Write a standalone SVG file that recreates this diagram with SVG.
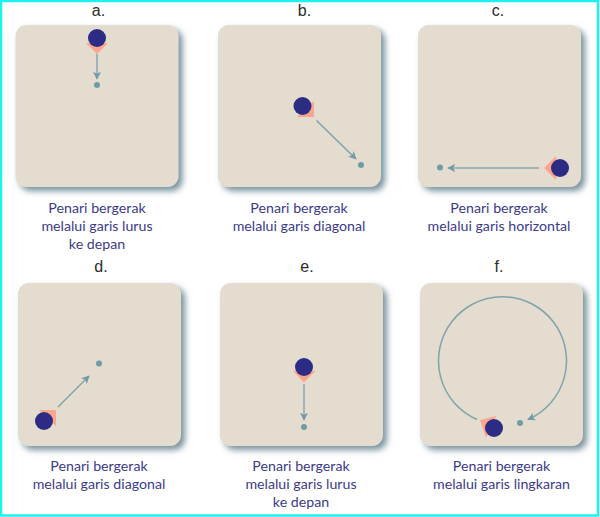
<svg xmlns="http://www.w3.org/2000/svg" width="600" height="517" viewBox="0 0 600 517">
<style>
.p{fill:#e3dccf;filter:url(#s)}
.l{font:16px "Liberation Sans",sans-serif;fill:#2b2b2b;text-anchor:middle}
.t{font:14.2px "Lato",sans-serif;fill:#3b3b8a;text-anchor:middle}
.c{fill:#2c2c85}
.v{fill:#fba58e}
.d{fill:#6f9ca6}
.a{fill:none;stroke:#7fa3ab;stroke-width:1.5;marker-end:url(#m)}
.b{stroke:#9db5b8;stroke-width:2}
</style>
<defs>
<filter id="s" x="-10%" y="-10%" width="125%" height="125%"><feDropShadow dx="4" dy="4" stdDeviation="3" flood-color="#5f7f8c" flood-opacity="0.85"/></filter>
<marker id="m" viewBox="0 0 10 10" refX="9" refY="5" markerWidth="8" markerHeight="8" orient="auto" markerUnits="userSpaceOnUse"><path d="M0 0L10 5L0 10L2.5 5Z" fill="#6f9ca6"/></marker>
</defs>
<rect width="600" height="517" fill="#fff"/>
<rect x="1" y="1" width="597" height="514.500" fill="none" stroke="#1ff0f0" stroke-width="2.500"/>
<g id="panel-a"><rect class="p" x="15.500" y="25" width="163" height="162" rx="11"/><text class="l" x="98.500" y="15.500">a.</text>
<path class="v" d="M86 43H108L97 54Z"/><circle class="c" cx="97" cy="38" r="9"/><circle class="d" cx="97" cy="85" r="3"/>
<text class="t"><tspan x="97" y="213">Penari bergerak</tspan><tspan x="97" y="231">melalui garis lurus</tspan><tspan x="97" y="249">ke depan</tspan></text></g>
<g id="panel-b"><rect class="p" x="218" y="25" width="163" height="162" rx="11"/><text class="l" x="304.500" y="15.500">b.</text>
<path class="v" d="M314 101V117H297Z"/><circle class="c" cx="302.500" cy="106" r="9"/><circle class="d" cx="361" cy="165" r="3"/>
<text class="t"><tspan x="299" y="213">Penari bergerak</tspan><tspan x="299" y="231">melalui garis diagonal</tspan></text></g>
<g id="panel-c"><rect class="p" x="418" y="25" width="163" height="162" rx="11"/><text class="l" x="498" y="15.500">c.</text>
<path class="v" d="M544 168L556 156V180Z"/><circle class="c" cx="560" cy="168" r="9"/><circle class="d" cx="440" cy="167.500" r="3"/>
<text class="t"><tspan x="499" y="213">Penari bergerak</tspan><tspan x="499" y="231">melalui garis horizontal</tspan></text></g>
<g id="panel-d"><rect class="p" x="18" y="283" width="163" height="163" rx="11"/><text class="l" x="101" y="272">d.</text>
<path class="v" d="M39 410H56V426Z"/><circle class="c" cx="44" cy="421" r="9"/><circle class="d" cx="99" cy="363.500" r="3"/>
<text class="t"><tspan x="99" y="471">Penari bergerak</tspan><tspan x="99" y="489">melalui garis diagonal</tspan></text></g>
<g id="panel-e"><rect class="p" x="220" y="283" width="163" height="163" rx="11"/><text class="l" x="307" y="272">e.</text>
<path class="v" d="M293 371H315.500L304 382.500Z"/><circle class="c" cx="304" cy="367" r="9"/><circle class="d" cx="304" cy="427" r="3"/>
<text class="t"><tspan x="301" y="471">Penari bergerak</tspan><tspan x="301" y="489">melalui garis lurus</tspan><tspan x="301" y="507">ke depan</tspan></text></g>
<g id="panel-f"><rect class="p" x="420" y="283" width="163" height="163" rx="11"/><text class="l" x="499" y="272">f.</text>
<path class="v" d="M480 420L496 416L486 438Z"/><circle class="c" cx="494" cy="428" r="9"/><circle class="d" cx="520" cy="423" r="3"/>
<text class="t"><tspan x="501.500" y="471">Penari bergerak</tspan><tspan x="501.500" y="489">melalui garis lingkaran</tspan></text></g>
<g id="connectors">
<path class="a b" d="M97 54V79"/>
<path class="a" d="M316.500 120.500L356 159"/>
<path class="a b" d="M539 168H448"/>
<path class="a" d="M58 407L89 376"/>
<path class="a b" d="M304 384V420"/>
<path class="a" d="M477 419.500A64 64 0 1 1 528 419.500"/>
</g>
</svg>
